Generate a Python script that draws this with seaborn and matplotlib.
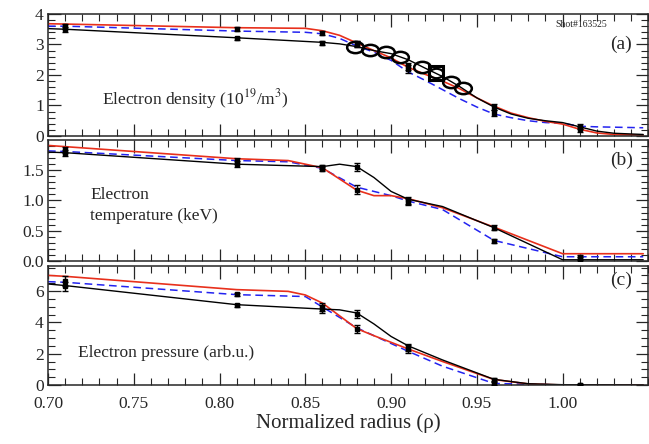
import numpy as np
import pandas as pd
import matplotlib
matplotlib.use("Agg")
import matplotlib.pyplot as plt
import matplotlib.path as mpath
import matplotlib.transforms as mtransforms
import seaborn as sns

# ---- data ----
# panel (a): electron density
a_black_x = [0.70, 0.71, 0.81, 0.86, 0.87, 0.88, 0.89, 0.90, 0.91, 0.92, 0.93, 0.94, 0.95, 0.96, 0.97, 0.98, 0.99, 1.00, 1.01, 1.02, 1.03, 1.047]
a_black_y = [3.52, 3.50, 3.22, 3.07, 3.02, 2.93, 2.80, 2.70, 2.50, 2.22, 1.95, 1.62, 1.25, 0.95, 0.72, 0.58, 0.50, 0.44, 0.30, 0.16, 0.09, 0.05]
a_red_x = [0.70, 0.71, 0.81, 0.85, 0.86, 0.87, 0.88, 0.89, 0.90, 0.91, 0.92, 0.93, 0.94, 0.95, 0.96, 0.97, 0.98, 0.99, 1.00, 1.01, 1.02, 1.03, 1.047]
a_red_y = [3.68, 3.67, 3.55, 3.53, 3.45, 3.30, 3.05, 2.80, 2.56, 2.25, 2.02, 1.80, 1.55, 1.25, 0.98, 0.75, 0.60, 0.48, 0.39, 0.22, 0.10, 0.05, 0.03]
a_blue_x = [0.70, 0.71, 0.81, 0.85, 0.86, 0.87, 0.88, 0.89, 0.90, 0.91, 0.92, 0.93, 0.94, 0.95, 0.96, 0.97, 0.98, 0.99, 1.00, 1.01, 1.02, 1.047]
a_blue_y = [3.60, 3.60, 3.44, 3.40, 3.35, 3.20, 2.95, 2.75, 2.48, 2.10, 1.82, 1.52, 1.22, 0.95, 0.72, 0.60, 0.50, 0.44, 0.42, 0.32, 0.30, 0.27]
# open circles (and one square) on the density profile
circ_x = [0.879, 0.888, 0.897, 0.905, 0.918, 0.935, 0.942]
circ_y = [2.93, 2.82, 2.77, 2.60, 2.27, 1.78, 1.56]
sq_x = [0.926]
sq_y = [2.05]

# panel (b): electron temperature
b_black_x = [0.70, 0.71, 0.81, 0.86, 0.87, 0.88, 0.89, 0.90, 0.91, 0.93, 0.96, 1.00, 1.047]
b_black_y = [1.80, 1.79, 1.60, 1.56, 1.60, 1.56, 1.38, 1.15, 1.02, 0.90, 0.55, 0.02, 0.02]
b_red_x = [0.70, 0.71, 0.81, 0.84, 0.86, 0.88, 0.89, 0.90, 0.91, 0.93, 0.96, 1.00, 1.047]
b_red_y = [1.91, 1.89, 1.69, 1.66, 1.54, 1.17, 1.08, 1.08, 1.03, 0.88, 0.56, 0.12, 0.12]
b_blue_x = [0.70, 0.71, 0.81, 0.84, 0.86, 0.88, 0.90, 0.91, 0.93, 0.96, 1.00, 1.047]
b_blue_y = [1.82, 1.81, 1.66, 1.64, 1.53, 1.22, 1.08, 0.99, 0.85, 0.34, 0.07, 0.07]

# panel (c): electron pressure
c_black_x = [0.70, 0.71, 0.81, 0.86, 0.87, 0.88, 0.89, 0.90, 0.91, 0.93, 0.96, 0.98, 1.00, 1.047]
c_black_y = [6.45, 6.35, 5.13, 4.85, 4.80, 4.60, 3.90, 3.10, 2.50, 1.60, 0.36, 0.08, 0.02, 0.0]
c_red_x = [0.70, 0.71, 0.81, 0.84, 0.85, 0.86, 0.88, 0.89, 0.91, 0.93, 0.96, 0.98, 1.00, 1.047]
c_red_y = [7.00, 6.94, 6.09, 5.98, 5.75, 5.23, 3.60, 3.15, 2.30, 1.50, 0.35, 0.07, 0.0, 0.0]
c_blue_x = [0.70, 0.71, 0.81, 0.85, 0.86, 0.88, 0.91, 0.93, 0.96, 1.00, 1.047]
c_blue_y = [6.60, 6.56, 5.77, 5.65, 4.98, 3.65, 2.15, 1.20, 0.10, 0.0, 0.0]

# measured points with error bars
meas_x = [0.71, 0.81, 0.86, 0.88, 0.91, 0.96, 1.01]
a_meas1 = [3.50, 3.20, 3.05, 3.02, 2.28, 0.95, 0.30]
a_meas2 = [3.60, 3.50, 3.38, 3.02, 2.20, 0.75, 0.22]
a_err = [0.08, 0.06, 0.06, 0.10, 0.12, 0.10, 0.08]
b_meas1 = [1.78, 1.60, 1.55, 1.55, 1.00, 0.55, 0.06]
b_meas2 = [1.83, 1.65, 1.52, 1.18, 0.98, 0.33, 0.03]
b_err = [0.05, 0.05, 0.03, 0.07, 0.05, 0.04, 0.04]
c_meas1 = [6.30, 5.10, 4.85, 4.55, 2.40, 0.35, 0.0]
c_meas2 = [6.65, 5.80, 5.00, 3.60, 2.30, 0.10, 0.0]
c_err = [0.30, 0.10, 0.25, 0.25, 0.25, 0.10, 0.05]

RED = "#e8301c"
BLUE = "#2323f0"

sns.set_style("ticks")
plt.rcParams["font.family"] = ["Liberation Serif", "DejaVu Serif"]
plt.rcParams["mathtext.fontset"] = "stix"

# flattened circle marker like the original plot symbol
ell = mpath.Path.unit_circle().transformed(mtransforms.Affine2D().scale(1.0, 0.68))

fig = plt.figure(figsize=(6.49, 4.44), dpi=100)
ax_a = fig.add_axes([0.074, 0.6937, 0.925, 0.2748])
ax_b = fig.add_axes([0.074, 0.4122, 0.925, 0.2725])
ax_c = fig.add_axes([0.074, 0.1329, 0.925, 0.268])

panels = [
    (ax_a, a_black_x, a_black_y, a_red_x, a_red_y, a_blue_x, a_blue_y, a_meas1, a_meas2, a_err),
    (ax_b, b_black_x, b_black_y, b_red_x, b_red_y, b_blue_x, b_blue_y, b_meas1, b_meas2, b_err),
    (ax_c, c_black_x, c_black_y, c_red_x, c_red_y, c_blue_x, c_blue_y, c_meas1, c_meas2, c_err),
]

for ax, kx, ky, rx, ry, bx, by, m1, m2, err in panels:
    sns.lineplot(x=bx, y=by, ax=ax, color=BLUE, lw=1.1, linestyle=(0, (5, 3)), sort=False)
    sns.lineplot(x=rx, y=ry, ax=ax, color=RED, lw=1.2, sort=False)
    sns.lineplot(x=kx, y=ky, ax=ax, color="black", lw=1.0, sort=False)
    ax.errorbar(meas_x, m1, yerr=err, fmt="s", ms=3, color="black", capsize=2.5, elinewidth=1, zorder=5)
    ax.errorbar(meas_x, m2, yerr=err, fmt="s", ms=3, color="black", capsize=2.5, elinewidth=1, zorder=5)
    ax.set_xlim(0.70, 1.0475)
    ax.set_xticks([0.70, 0.75, 0.80, 0.85, 0.90, 0.95, 1.00])
    ax.set_xticks(np.arange(0.70, 1.05, 0.01), minor=True)
    ax.tick_params(which="both", direction="in", top=True, right=True, labelsize=12.5, pad=3)
    ax.tick_params(which="major", length=9, width=0.9)
    ax.tick_params(which="minor", length=5, width=0.8)
    for s in ax.spines.values():
        s.set_linewidth(1.1)
    ax.set_ylabel("")

# circles on density
ax_a.plot(circ_x, circ_y, linestyle="none", marker=ell, ms=12, mfc="none", mec="black", mew=1.8, zorder=6)
ax_a.plot(sq_x, sq_y, "s", ms=10, mfc="none", mec="black", mew=2.2, zorder=6)
ax_a.plot(sq_x, sq_y, linestyle="none", marker=ell, ms=10, mfc="none", mec="black", mew=1.6, zorder=6)

ax_a.set_ylim(0, 4)
ax_a.set_yticks([0, 1, 2, 3, 4])
ax_a.set_yticks(np.arange(0, 4.01, 0.2), minor=True)
ax_b.set_ylim(0, 2.0)
ax_b.set_yticks([0.0, 0.5, 1.0, 1.5])
ax_b.set_yticklabels(["0.0", "0.5", "1.0", "1.5"])
ax_b.set_yticks(np.arange(0, 2.0, 0.1), minor=True)
ax_c.set_ylim(0, 7.6)
ax_c.set_yticks([0, 2, 4, 6])
ax_c.set_yticks(np.arange(0, 7.6, 0.5), minor=True)

ax_a.tick_params(labelbottom=False)
ax_b.tick_params(labelbottom=False)
ax_c.tick_params(axis="x", pad=8)
ax_c.set_xticklabels(["0.70", "0.75", "0.80", "0.85", "0.90", "0.95", "1.00"])
ax_c.set_xlabel("Normalized radius (ρ)", fontsize=15, labelpad=1)

ax_a.text(0.245, 0.30, "Electron density (10$^{19}$/m$^{3}$)", transform=ax_a.transAxes, fontsize=12.5, ha="center", va="center")
ax_b.text(0.07, 0.46, "Electron\ntemperature (keV)", transform=ax_b.transAxes, fontsize=12.5, ha="left", va="center", linespacing=1.45)
ax_c.text(0.05, 0.27, "Electron pressure (arb.u.)", transform=ax_c.transAxes, fontsize=12.5, ha="left", va="center")

ax_a.text(0.888, 0.91, "Shot#163525", transform=ax_a.transAxes, fontsize=7, ha="center", va="center")
for ax, lab, yy in [(ax_a, "(a)", 0.75), (ax_b, "(b)", 0.83), (ax_c, "(c)", 0.88)]:
    ax.text(0.955, yy, lab, transform=ax.transAxes, fontsize=14, ha="center", va="center")

fig.savefig("out.png", dpi=100)
